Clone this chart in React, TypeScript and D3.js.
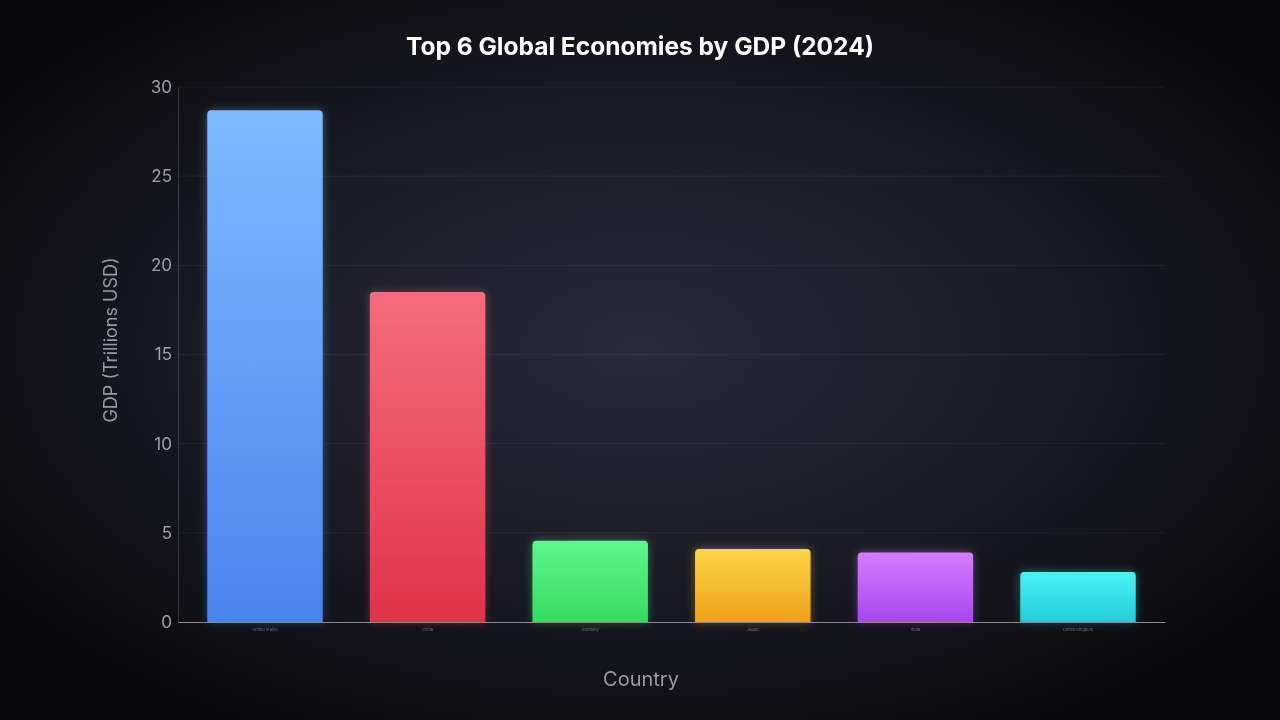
import { useEffect, useRef } from "react";
import * as d3 from "d3";

// data
const countries = ["United States", "China", "Germany", "Japan", "India", "United Kingdom"];
const gdp = [28.7, 18.5, 4.55, 4.1, 3.9, 2.8];
const yTicks = [0, 5, 10, 15, 20, 25, 30];
const topColors = ["#7cbaff", "#f66c7c", "#5ef78c", "#fbd548", "#d47dff", "#4cf1f6"];
const bottomColors = ["#4a84ee", "#e0334a", "#34dc60", "#efa11a", "#a747f0", "#20ced9"];

export default function App() {
  const ref = useRef<SVGSVGElement>(null);

  useEffect(() => {
    const svg = d3.select(ref.current);
    svg.selectAll("*").remove();

    const W = 1280, H = 720;
    const left = 178, right = 1165, top = 87, bottom = 622;
    const font = "Inter, 'DejaVu Sans', sans-serif";

    const defs = svg.append("defs");
    const bg = defs.append("radialGradient").attr("id", "bg")
      .attr("cx", "50%").attr("cy", "48%").attr("r", "62%");
    bg.append("stop").attr("offset", "0%").attr("stop-color", "#292a3b");
    bg.append("stop").attr("offset", "55%").attr("stop-color", "#191a23");
    bg.append("stop").attr("offset", "100%").attr("stop-color", "#09090b");

    countries.forEach((c, i) => {
      const g = defs.append("linearGradient").attr("id", "bar" + i)
        .attr("x1", 0).attr("y1", 0).attr("x2", 0).attr("y2", 1);
      g.append("stop").attr("offset", "0%").attr("stop-color", topColors[i]);
      g.append("stop").attr("offset", "100%").attr("stop-color", bottomColors[i]);
    });
    const glow = defs.append("filter").attr("id", "glow")
      .attr("x", "-30%").attr("y", "-30%").attr("width", "160%").attr("height", "160%");
    glow.append("feGaussianBlur").attr("in", "SourceGraphic").attr("stdDeviation", 5).attr("result", "b");
    glow.append("feComponentTransfer").attr("in", "b").attr("result", "bf")
      .append("feFuncA").attr("type", "linear").attr("slope", 0.4);
    const merge = glow.append("feMerge");
    merge.append("feMergeNode").attr("in", "bf");
    merge.append("feMergeNode").attr("in", "SourceGraphic");

    svg.append("rect").attr("width", W).attr("height", H).attr("fill", "url(#bg)");

    const x = d3.scaleBand<string>().domain(countries).range([left, right])
      .paddingInner(0.29).paddingOuter(0.18);
    const y = d3.scaleLinear().domain([0, 30]).range([bottom, top]);

    // grid
    svg.append("g").selectAll("line").data(yTicks.slice(1)).join("line")
      .attr("x1", left).attr("x2", right)
      .attr("y1", d => y(d)).attr("y2", d => y(d))
      .attr("stroke", "#ffffff").attr("stroke-opacity", 0.06);

    // y axis
    const yAxis = svg.append("g").attr("transform", `translate(${left},0)`)
      .call(d3.axisLeft(y).tickValues(yTicks).tickSize(0).tickPadding(6));
    yAxis.select(".domain").attr("stroke", "#ffffff").attr("stroke-opacity", 0.15);
    yAxis.selectAll("text").attr("fill", "#a0a0a8").attr("font-size", 17)
      .attr("font-family", font);

    // bars
    const bw = x.bandwidth();
    svg.append("g").selectAll("path").data(gdp).join("path")
      .attr("filter", "url(#glow)")
      .attr("fill", (d, i) => `url(#bar${i})`)
      .attr("d", (d, i) => {
        const x0 = x(countries[i])!, y0 = y(d), r = 4;
        const p = d3.path();
        p.moveTo(x0, bottom);
        p.lineTo(x0, y0 + r);
        p.quadraticCurveTo(x0, y0, x0 + r, y0);
        p.lineTo(x0 + bw - r, y0);
        p.quadraticCurveTo(x0 + bw, y0, x0 + bw, y0 + r);
        p.lineTo(x0 + bw, bottom);
        p.closePath();
        return p.toString();
      });

    // x axis
    const xAxis = svg.append("g").attr("transform", `translate(0,${bottom})`)
      .call(d3.axisBottom(x).tickSize(0).tickPadding(6));
    xAxis.select(".domain").attr("stroke", "#8a8a92").attr("stroke-width", 1.2);
    xAxis.selectAll("text").attr("fill", "#6a6a72").attr("font-size", 4)
      .attr("font-family", font);

    svg.append("text").attr("x", W / 2).attr("y", 55).attr("text-anchor", "middle")
      .attr("fill", "#ffffff").attr("font-size", 24.5).attr("font-weight", 700)
      .attr("font-family", font).text("Top 6 Global Economies by GDP (2024)");

    svg.append("text").attr("x", 641).attr("y", 686).attr("text-anchor", "middle")
      .attr("fill", "#9a9aa2").attr("font-size", 20).attr("font-family", font)
      .text("Country");

    svg.append("text").attr("transform", `translate(117,340) rotate(-90)`)
      .attr("text-anchor", "middle").attr("fill", "#9a9aa2").attr("font-size", 18)
      .attr("font-family", font).text("GDP (Trillions USD)");
  }, []);

  return (
    <svg ref={ref} width={1280} height={720}
      style={{ position: "fixed", left: 0, top: 0, display: "block" }} />
  );
}
